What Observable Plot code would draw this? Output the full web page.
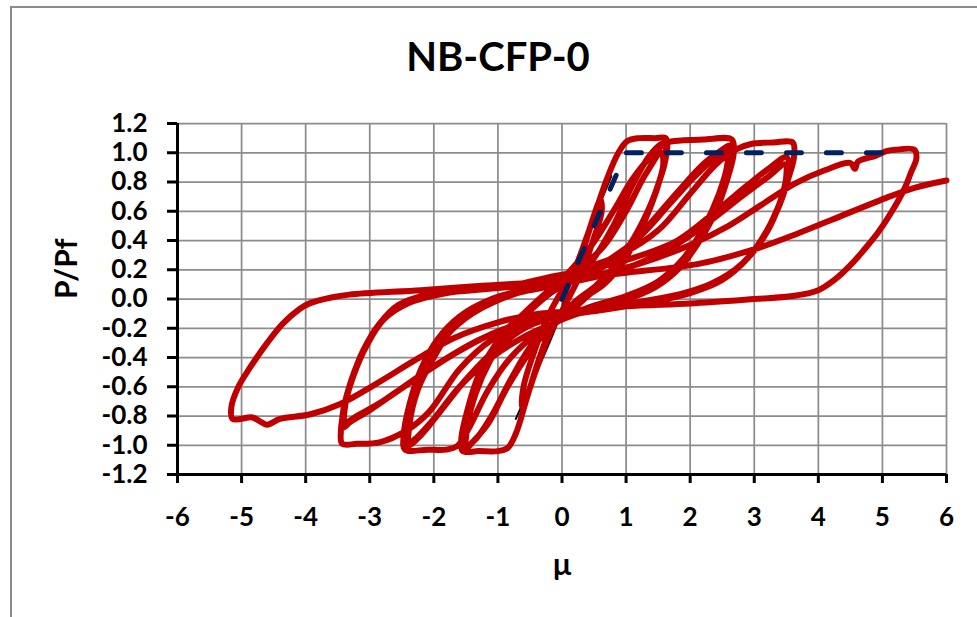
<!DOCTYPE html>
<html><head><meta charset="utf-8">
<script src="https://cdn.jsdelivr.net/npm/d3@7"></script>
<script src="https://cdn.jsdelivr.net/npm/@observablehq/plot@0.6"></script>
<style>
body{margin:0;background:#fff;}
#wrap{position:relative;width:977px;height:617px;overflow:hidden;font-family:Lato,sans-serif;}
#frame{position:absolute;left:10px;top:6px;width:1000px;height:700px;border-left:2px solid #8c8c8c;border-top:2px solid #8c8c8c;}
#title{position:absolute;left:0;width:996px;top:32px;line-height:48px;text-align:center;font-weight:bold;font-size:40px;font-family:Lato,sans-serif;color:#000;}
#chart{position:absolute;left:0;top:0;}
</style></head>
<body>
<div id="wrap">
  <div id="frame"></div>
  <div id="chart"></div>
  <div id="title">NB-CFP-0</div>
</div>
<script>
// ---- tick labels ----
const xTicks = [-6,-5,-4,-3,-2,-1,0,1,2,3,4,5,6];
const yTicks = [-1.2,-1.0,-0.8,-0.6,-0.4,-0.2,0.0,0.2,0.4,0.6,0.8,1.0,1.2];
const xLabel = "μ";
const yLabel = "P/Pf";

// ---- thin black monotonic curve ----
const monotonic = [[-0.72,-0.82],[-0.5,-0.6],[-0.08,-0.17],[0.16,0.19],[0.45,0.5],[0.77,0.84]];

// ---- dashed bilinear idealisation ----
const bilinear = [[0,0],[1.0,1.0],[5.05,1.0]];

// ---- hysteresis cycles (μ, P/Pf) ----
const cycle0 = [[0,0],[0.2,0.2],[0.4,0.44],[0.6,0.68],[0.62,0.6],[0.5,0.42],[0.3,0.18],[0.05,-0.04],[-0.2,-0.25],[-0.4,-0.48],[-0.62,-0.74],[-0.6,-0.6],[-0.45,-0.38],[-0.25,-0.15],[-0.05,0.02]];
const cycleA1 = [[0.2,0.18],[0.45,0.5],[0.7,0.82],[0.88,1.0],[1.02,1.08],[1.2,1.1],[1.45,1.1],[1.62,1.1],[1.64,1.02],[1.55,0.85],[1.4,0.65],[1.2,0.45],[0.95,0.25],[0.65,0.1],[0.3,0.0],[0.05,-0.07],[-0.15,-0.18],[-0.35,-0.4],[-0.55,-0.68],[-0.72,-0.92],[-0.85,-1.02],[-1.0,-1.04],[-1.3,-1.04],[-1.55,-1.04],[-1.57,-0.95],[-1.47,-0.75],[-1.3,-0.52],[-1.05,-0.32],[-0.75,-0.17],[-0.4,-0.04],[-0.1,0.08]];
const cycleA2 = [[0.1,0.18],[0.45,0.36],[0.8,0.6],[1.1,0.82],[1.4,0.98],[1.6,1.05],[1.62,0.97],[1.5,0.78],[1.3,0.55],[1.05,0.33],[0.75,0.15],[0.4,0.02],[0.1,-0.1],[-0.2,-0.2],[-0.5,-0.36],[-0.85,-0.6],[-1.15,-0.85],[-1.4,-0.98],[-1.52,-1.03],[-1.53,-0.92],[-1.42,-0.7],[-1.2,-0.45],[-0.95,-0.25],[-0.6,-0.1],[-0.25,0.04],[0.05,0.14]];
const cycleA3 = [[0.3,0.22],[0.65,0.36],[1.0,0.6],[1.3,0.85],[1.55,1.0],[1.58,0.92],[1.45,0.72],[1.2,0.48],[0.9,0.27],[0.55,0.1],[0.2,-0.02],[-0.1,-0.15],[-0.45,-0.3],[-0.8,-0.55],[-1.1,-0.8],[-1.35,-0.96],[-1.48,-1.0],[-1.48,-0.88],[-1.35,-0.65],[-1.12,-0.42],[-0.85,-0.24],[-0.5,-0.08],[-0.15,0.05]];
const cycleB1 = [[0.15,0.12],[0.45,0.25],[0.8,0.5],[1.1,0.78],[1.35,0.97],[1.55,1.06],[1.75,1.08],[2.2,1.09],[2.65,1.09],[2.68,1.0],[2.58,0.82],[2.4,0.6],[2.15,0.4],[1.85,0.22],[1.45,0.08],[0.9,-0.02],[0.4,-0.08],[0.0,-0.14],[-0.4,-0.24],[-0.8,-0.4],[-1.15,-0.62],[-1.45,-0.88],[-1.62,-1.0],[-1.8,-1.03],[-2.1,-1.03],[-2.45,-1.03],[-2.47,-0.93],[-2.38,-0.72],[-2.2,-0.48],[-1.95,-0.28],[-1.6,-0.12],[-1.1,0.0],[-0.5,0.07],[-0.1,0.1]];
const cycleB2 = [[0.3,0.14],[0.8,0.27],[1.3,0.48],[1.8,0.73],[2.2,0.92],[2.5,1.02],[2.62,1.05],[2.63,0.96],[2.5,0.75],[2.3,0.55],[2.0,0.33],[1.6,0.15],[1.1,0.03],[0.5,-0.05],[0.0,-0.11],[-0.5,-0.18],[-1.0,-0.33],[-1.5,-0.55],[-1.9,-0.77],[-2.2,-0.93],[-2.4,-1.0],[-2.42,-0.9],[-2.3,-0.68],[-2.1,-0.45],[-1.8,-0.25],[-1.4,-0.1],[-0.9,0.01],[-0.3,0.1]];
const cycleB3 = [[0.2,0.16],[0.7,0.26],[1.2,0.42],[1.7,0.66],[2.1,0.85],[2.4,0.97],[2.58,1.02],[2.58,0.92],[2.45,0.72],[2.2,0.48],[1.9,0.28],[1.5,0.12],[1.0,0.02],[0.4,-0.06],[-0.1,-0.16],[-0.6,-0.26],[-1.1,-0.4],[-1.6,-0.6],[-2.0,-0.82],[-2.3,-0.96],[-2.38,-0.98],[-2.38,-0.86],[-2.25,-0.62],[-2.0,-0.4],[-1.7,-0.2],[-1.25,-0.06],[-0.7,0.04],[-0.2,0.09]];
const cycleC1 = [[0.3,0.2],[0.9,0.3],[1.5,0.47],[2.0,0.72],[2.4,0.92],[2.7,1.02],[2.95,1.06],[3.3,1.07],[3.6,1.07],[3.62,0.97],[3.55,0.85],[3.42,0.68],[3.2,0.47],[2.9,0.28],[2.5,0.13],[2.0,0.04],[1.4,-0.02],[0.7,-0.07],[0.1,-0.11],[-0.5,-0.16],[-1.1,-0.28],[-1.6,-0.48],[-2.07,-0.77],[-2.43,-0.9],[-2.85,-0.98],[-3.2,-0.99],[-3.43,-0.99],[-3.45,-0.9],[-3.4,-0.75],[-3.28,-0.55],[-3.1,-0.35],[-2.85,-0.17],[-2.55,-0.04],[-2.1,0.03],[-1.5,0.06],[-0.8,0.09],[-0.2,0.15]];
const cycleC2 = [[0.4,0.2],[1.1,0.28],[1.8,0.4],[2.4,0.6],[2.9,0.78],[3.25,0.9],[3.5,0.97],[3.55,0.9],[3.48,0.75],[3.3,0.55],[3.05,0.36],[2.7,0.2],[2.2,0.08],[1.5,0.0],[0.8,-0.05],[0.1,-0.1],[-0.6,-0.16],[-1.3,-0.28],[-2.0,-0.46],[-2.6,-0.64],[-3.0,-0.76],[-3.3,-0.84],[-3.42,-0.88],[-3.42,-0.78],[-3.32,-0.6],[-3.15,-0.4],[-2.9,-0.2],[-2.6,-0.07],[-2.1,0.02],[-1.4,0.06],[-0.6,0.09]];
const cycleC3 = [[0.3,0.13],[1.0,0.21],[1.7,0.35],[2.3,0.53],[2.8,0.7],[3.2,0.83],[3.48,0.92],[3.5,0.84],[3.4,0.66],[3.2,0.46],[2.9,0.28],[2.5,0.14],[1.9,0.04],[1.2,-0.02],[0.4,-0.08],[-0.3,-0.13],[-1.0,-0.22],[-1.7,-0.38],[-2.3,-0.55],[-2.8,-0.7],[-3.2,-0.8],[-3.38,-0.84],[-3.38,-0.72],[-3.25,-0.52],[-3.05,-0.32],[-2.78,-0.14],[-2.4,-0.03],[-1.8,0.04],[-1.0,0.08],[-0.3,0.11]];
const cycleD = [[0.4,0.15],[1.2,0.24],[2.0,0.37],[2.6,0.5],[3.1,0.64],[3.64,0.79],[4.1,0.88],[4.5,0.93],[4.57,0.89],[4.62,0.94],[4.9,0.98],[5.05,1.01],[5.2,1.02],[5.5,1.02],[5.53,0.96],[5.45,0.87],[5.35,0.76],[5.15,0.6],[4.94,0.46],[4.72,0.34],[4.52,0.24],[4.25,0.13],[4.0,0.06],[3.6,0.02],[3.0,0.0],[2.0,-0.03],[1.0,-0.05],[0.3,-0.08],[-0.36,-0.1],[-1.0,-0.16],[-1.7,-0.27],[-2.3,-0.42],[-2.9,-0.58],[-3.47,-0.72],[-3.94,-0.79],[-4.4,-0.82],[-4.6,-0.86],[-4.7,-0.84],[-4.83,-0.81],[-5.14,-0.82],[-5.16,-0.74],[-5.05,-0.6],[-4.87,-0.47],[-4.6,-0.3],[-4.36,-0.17],[-4.1,-0.07],[-3.94,-0.03],[-3.6,0.01],[-3.32,0.03],[-2.2,0.06],[-1.25,0.09],[-0.2,0.12],[0.4,0.15],[1.0,0.18],[2.13,0.24],[3.07,0.35],[3.69,0.45],[4.2,0.54],[5.05,0.69],[5.5,0.76],[6.0,0.81]];

const hysteresis = [].concat(cycle0, cycleA1, cycleA2, cycleA3, cycleB1, cycleB2, cycleB3, cycleC1, cycleC2, cycleC3, cycleD);

const X = d => d[0], Y = d => d[1];
const chart = Plot.plot({
  width: 977, height: 617,
  marginLeft: 177, marginRight: 31, marginTop: 123, marginBottom: 143,
  x: {domain: [-6, 6]},
  y: {domain: [-1.2, 1.2]},
  style: {fontFamily: "Lato, sans-serif", fontSize: "26px", fontWeight: "bold", color: "#000", background: "transparent", overflow: "visible"},
  marks: [
    Plot.ruleX(xTicks, {stroke: "#8c8c8c", strokeWidth: 1.75, strokeOpacity: 1}),
    Plot.ruleY(yTicks, {stroke: "#8c8c8c", strokeWidth: 1.75, strokeOpacity: 1}),
    Plot.line(monotonic, {x: X, y: Y, stroke: "#000", strokeWidth: 2, curve: "catmull-rom"}),
    Plot.line(hysteresis, {x: X, y: Y, stroke: "#C00000", strokeWidth: 6, curve: "catmull-rom", strokeLinejoin: "round", strokeLinecap: "round"}),
    Plot.line(bilinear, {x: X, y: Y, stroke: "#002060", strokeWidth: 5, strokeDasharray: "15,25", strokeLinecap: "round"}),
    Plot.axisX({ticks: xTicks, tickSize: 9, tickPadding: 24, strokeWidth: 3, tickFormat: d => String(d), label: null, fontSize: 26}),
    Plot.axisY({ticks: yTicks, tickSize: 10, tickPadding: 20, strokeWidth: 3, tickFormat: d => d.toFixed(1), label: null, fontSize: 26}),
    Plot.ruleX([-6], {stroke: "#000", strokeWidth: 3}),
    Plot.ruleY([-1.2], {stroke: "#000", strokeWidth: 3}),
    Plot.text([xLabel], {text: d => d, frameAnchor: "bottom", dy: 100, fontSize: 30, fontWeight: "bold"}),
    Plot.text([yLabel], {text: d => d, frameAnchor: "left", dx: -110, rotate: -90, fontSize: 30, fontWeight: "bold"})
  ]
});
document.getElementById("chart").appendChild(chart);
</script>
</body></html>
